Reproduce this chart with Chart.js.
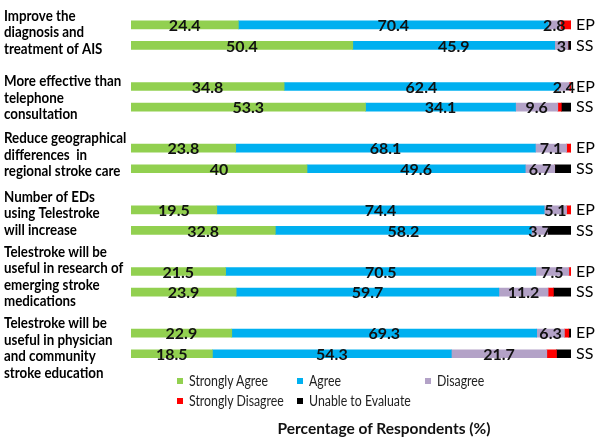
<!DOCTYPE html>
<html>
<head>
<meta charset="utf-8">
<script src="https://cdn.jsdelivr.net/npm/chart.js@4"></script>
<style>
  body { margin: 0; background: #fff; }
  #wrap { position: relative; width: 600px; height: 438px; font-family: Lato, sans-serif; }
  .leg { position: absolute; font-size: 14.5px; color: #222; white-space: nowrap; line-height: 16px; }
  .leg i { display: inline-block; width: 6px; height: 6px; margin-right: 6px; vertical-align: 2px; }
  .leg span { display: inline-block; transform: scaleX(0.85); transform-origin: left center; }
  #xtitle { position: absolute; left: 0; width: 768px; top: 419px; text-align: center; font-weight: bold; font-size: 15.5px; color: #111; }
</style>
</head>
<body>
<div id="wrap">
  <canvas id="chart" width="600" height="438"></canvas>
  <div class="leg" style="left:177px;top:373px"><i style="background:#92D050"></i><span>Strongly Agree</span></div>
  <div class="leg" style="left:297px;top:373px"><i style="background:#00B0F0"></i><span>Agree</span></div>
  <div class="leg" style="left:425px;top:373px"><i style="background:#B3A2C7"></i><span>Disagree</span></div>
  <div class="leg" style="left:177px;top:393px"><i style="background:#FF0000"></i><span>Strongly Disagree</span></div>
  <div class="leg" style="left:297px;top:393px"><i style="background:#000000"></i><span>Unable to Evaluate</span></div>
  <div id="xtitle">Percentage of Respondents (%)</div>
</div>
<script>
// statements (left labels), two rows each: EP then SS
const statements = [
    ['Improve the', 'diagnosis and', 'treatment of AIS'],
    ['More effective than', 'telephone', 'consultation'],
    ['Reduce geographical', 'differences  in', 'regional stroke care'],
    ['Number of EDs', 'using Telestroke', 'will increase'],
    ['Telestroke will be', 'useful in research of', 'emerging stroke', 'medications'],
    ['Telestroke will be', 'useful in physician', 'and community', 'stroke education']
];
const groupRows = ['EP', 'SS'];

// values in row order: EP1, SS1, EP2, SS2, ...
const stronglyAgree    = [24.4, 50.4, 34.8, 53.3, 23.8, 40, 19.5, 32.8, 21.5, 23.9, 22.9, 18.5];
const agree            = [70.4, 45.9, 62.4, 34.1, 68.1, 49.6, 74.4, 58.2, 70.5, 59.7, 69.3, 54.3];
const disagree         = [2.8, 3, 2.4, 9.6, 7.1, 6.7, 5.1, 3.7, 7.5, 11.2, 6.3, 21.7];
const stronglyDisagree = [2.4, 0, 0.4, 0.8, 1.0, 0, 1.0, 0, 0.5, 1.2, 1.0, 2.2];
const unableToEvaluate = [0, 0.7, 0, 2.2, 0, 3.7, 0, 5.3, 0, 4.0, 0.5, 3.3];

// vertical nudge of each statement block vs. its pair of bars (px)
const textShift = [-3, 1, -3.5, -7, -5.5, 4.5];

// one empty slot between the statement groups
const labels = [];
statements.forEach((s, i) => {
    labels.push(...groupRows);
    if (i < statements.length - 1) labels.push('');
});
function spread(arr) {
    const out = [];
    for (let i = 0; i < arr.length; i += 2) {
        out.push(arr[i], arr[i + 1]);
        if (i + 2 < arr.length) out.push(null);
    }
    return out;
}

const sideText = {
    id: 'sideText',
    afterDatasetsDraw(chart) {
        const ctx = chart.ctx;
        const y = chart.scales.y;
        ctx.save();
        // statement text on the left (squeezed a bit, Calibri-like width)
        ctx.fillStyle = '#000';
        ctx.font = 'bold 15.5px Lato';
        ctx.textAlign = 'left';
        ctx.textBaseline = 'middle';
        statements.forEach((lines, i) => {
            const mid = (y.getPixelForValue(i * 3) + y.getPixelForValue(i * 3 + 1)) / 2 + textShift[i];
            const top = mid - (lines.length - 1) * 16.5 / 2;
            lines.forEach((t, j) => ctx.fillText(t, 4, top + j * 16.5, ctx.measureText(t).width * 0.86));
        });
        // value labels for the first three series
        ctx.textAlign = 'center';
        ctx.fillStyle = '#111';
        ctx.font = 'bold 16px Lato';
        for (let d = 0; d < 3; d++) {
            const meta = chart.getDatasetMeta(d);
            meta.data.forEach((bar, k) => {
                const v = chart.data.datasets[d].data[k];
                if (v == null) return;
                const p = bar.getProps(['x', 'y', 'base'], true);
                ctx.fillText(String(v), (p.x + p.base) / 2, p.y + 1);
            });
        }
        ctx.restore();
    }
};

new Chart(document.getElementById('chart'), {
    type: 'bar',
    data: {
        labels: labels,
        datasets: [
            { label: 'Strongly Agree', data: spread(stronglyAgree), backgroundColor: '#92D050' },
            { label: 'Agree', data: spread(agree), backgroundColor: '#00B0F0' },
            { label: 'Disagree', data: spread(disagree), backgroundColor: '#B3A2C7' },
            { label: 'Strongly Disagree', data: spread(stronglyDisagree), backgroundColor: '#FF0000' },
            { label: 'Unable to Evaluate', data: spread(unableToEvaluate), backgroundColor: '#000000' }
        ]
    },
    options: {
        indexAxis: 'y',
        responsive: false,
        animation: false,
        devicePixelRatio: 1,
        barThickness: 8,
        layout: { padding: { left: 131, right: 0, top: 7, bottom: 74 } },
        plugins: { legend: { display: false }, tooltip: { enabled: false } },
        scales: {
            x: { stacked: true, min: 0, max: 100, display: false },
            y: {
                stacked: true,
                position: 'right',
                grid: { display: false, drawTicks: false },
                border: { display: false },
                afterFit(scale) { scale.width = 29; },
                ticks: { color: '#000', font: { family: 'Lato', size: 16 }, padding: 5, autoSkip: false }
            }
        }
    },
    plugins: [sideText]
});
</script>
</body>
</html>
